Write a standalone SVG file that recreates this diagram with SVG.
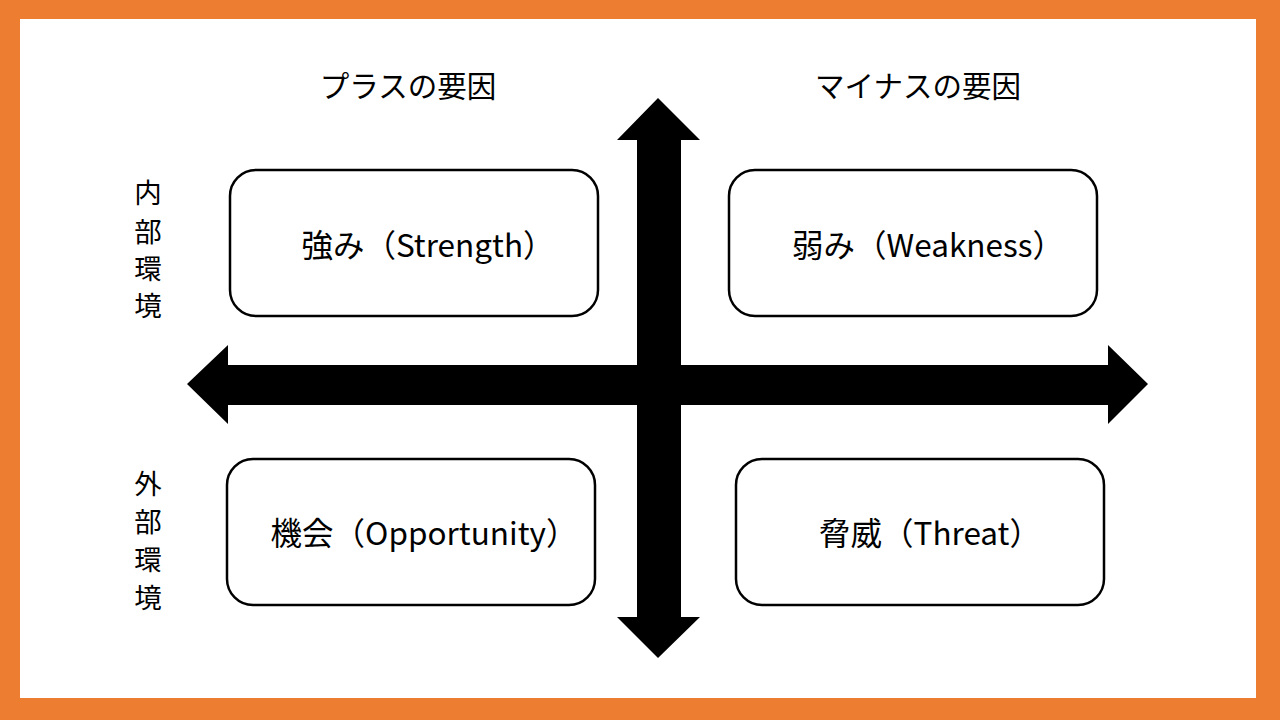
<svg xmlns="http://www.w3.org/2000/svg" width="1280" height="720" viewBox="0 0 1280 720">
<style>
.t{font-family:"Noto Sans CJK JP","Noto Sans",sans-serif;fill:#000;}
.h{font-size:29.5px;text-anchor:middle;}
.v{font-size:27.5px;text-anchor:middle;dominant-baseline:central;}
.b{font-size:31.5px;text-anchor:middle;dominant-baseline:central;}
.box{fill:#fff;stroke:#000;stroke-width:2.5;}
</style>
<rect x="0" y="0" width="1280" height="720" fill="#ED7D31"/>
<rect x="20" y="19" width="1236" height="679" fill="#fff"/>
<g id="connectors" fill="#000">
<polygon points="658,98 700,140 681,140 681,617 700,617 658,658 617,617 637,617 637,140 617,140"/>
<polygon points="187,384 228,345 228,365 1108,365 1108,345 1148,384 1108,424 1108,405 228,405 228,424"/>
</g>
<g id="header-plus"><text class="t h" x="408" y="97">プラスの要因</text></g>
<g id="header-minus"><text class="t h" x="918" y="97">マイナスの要因</text></g>
<g id="label-internal">
<text class="t v" x="148" y="191">内</text>
<text class="t v" x="148" y="230">部</text>
<text class="t v" x="148" y="267">環</text>
<text class="t v" x="148" y="304">境</text>
</g>
<g id="label-external">
<text class="t v" x="148" y="482">外</text>
<text class="t v" x="148" y="520">部</text>
<text class="t v" x="148" y="558">環</text>
<text class="t v" x="148" y="596">境</text>
</g>
<g id="strength">
<rect class="box" x="230" y="170" width="368" height="146" rx="26"/>
<text class="t b" x="428" y="243">強み（Strength）</text>
</g>
<g id="weakness">
<rect class="box" x="729" y="170" width="368" height="146" rx="26"/>
<text class="t b" x="928" y="243">弱み（Weakness）</text>
</g>
<g id="opportunity">
<rect class="box" x="227" y="459" width="368" height="146" rx="26"/>
<text class="t b" x="424" y="531">機会（Opportunity）</text>
</g>
<g id="threat">
<rect class="box" x="736" y="459" width="368" height="146" rx="26"/>
<text class="t b" x="930" y="531">脅威（Threat）</text>
</g>
</svg>
